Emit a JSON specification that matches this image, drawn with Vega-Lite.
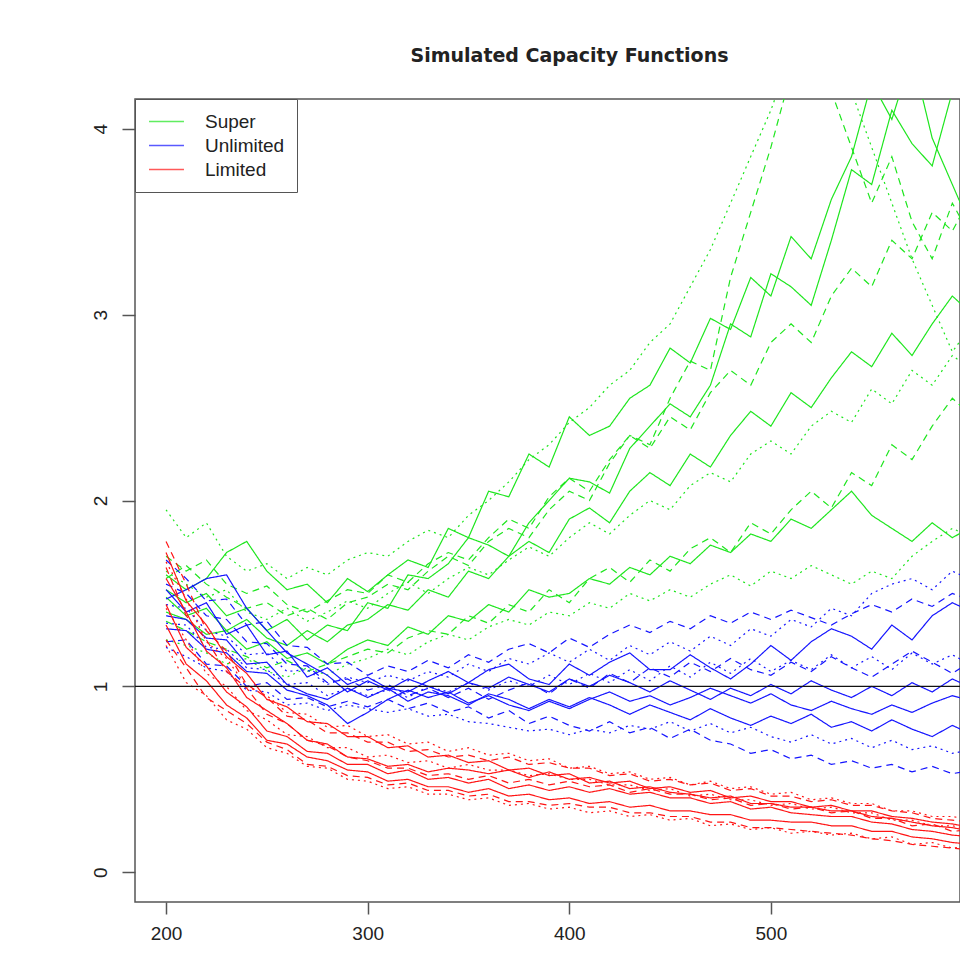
{
"$schema":"https://vega.github.io/schema/vega-lite/v6.json",
"width":825,"height":803,
"autosize":{"type":"none"},
"padding":{"left":135,"top":99,"right":0,"bottom":68},
"background":"white",
"title":{"text":"Simulated Capacity Functions","font":"DejaVu Sans","fontSize":19,"fontWeight":"bold","color":"#222","offset":33,"dx":22,"anchor":"middle"},
"datasets":{
"meta":[
{"k":"S1","g":"Super","t":"solid"},{"k":"S2","g":"Super","t":"solid"},{"k":"S3","g":"Super","t":"solid"},{"k":"S4","g":"Super","t":"solid"},{"k":"S5","g":"Super","t":"dashed"},{"k":"S6","g":"Super","t":"dashed"},{"k":"S7","g":"Super","t":"dashed"},{"k":"S8","g":"Super","t":"dotted"},{"k":"S9","g":"Super","t":"dotted"},{"k":"S10","g":"Super","t":"dotted"},
{"k":"U1","g":"Unlimited","t":"solid"},{"k":"U2","g":"Unlimited","t":"solid"},{"k":"U3","g":"Unlimited","t":"solid"},{"k":"U4","g":"Unlimited","t":"solid"},{"k":"U5","g":"Unlimited","t":"dashed"},{"k":"U6","g":"Unlimited","t":"dashed"},{"k":"U7","g":"Unlimited","t":"dashed"},{"k":"U8","g":"Unlimited","t":"dotted"},{"k":"U9","g":"Unlimited","t":"dotted"},{"k":"U10","g":"Unlimited","t":"dotted"},
{"k":"L1","g":"Limited","t":"solid"},{"k":"L2","g":"Limited","t":"solid"},{"k":"L3","g":"Limited","t":"solid"},{"k":"L4","g":"Limited","t":"solid"},{"k":"L5","g":"Limited","t":"dashed"},{"k":"L6","g":"Limited","t":"dashed"},{"k":"L7","g":"Limited","t":"dashed"},{"k":"L8","g":"Limited","t":"dotted"},{"k":"L9","g":"Limited","t":"dotted"},{"k":"L10","g":"Limited","t":"dotted"}
],
"curves":[
{"k":"S1","x":200,"y":1.6},{"k":"S1","x":210,"y":1.52},{"k":"S1","x":220,"y":1.58},{"k":"S1","x":230,"y":1.72},{"k":"S1","x":240,"y":1.78},{"k":"S1","x":250,"y":1.62},{"k":"S1","x":260,"y":1.52},{"k":"S1","x":270,"y":1.55},{"k":"S1","x":280,"y":1.45},{"k":"S1","x":290,"y":1.58},{"k":"S1","x":300,"y":1.51},{"k":"S1","x":310,"y":1.6},{"k":"S1","x":320,"y":1.68},{"k":"S1","x":330,"y":1.64},{"k":"S1","x":340,"y":1.85},{"k":"S1","x":350,"y":1.8},{"k":"S1","x":360,"y":2.05},{"k":"S1","x":370,"y":2.02},{"k":"S1","x":380,"y":2.25},{"k":"S1","x":390,"y":2.18},{"k":"S1","x":400,"y":2.45},{"k":"S1","x":410,"y":2.35},{"k":"S1","x":420,"y":2.4},{"k":"S1","x":430,"y":2.55},{"k":"S1","x":440,"y":2.62},{"k":"S1","x":450,"y":2.82},{"k":"S1","x":460,"y":2.74},{"k":"S1","x":470,"y":2.98},{"k":"S1","x":480,"y":2.92},{"k":"S1","x":490,"y":3.2},{"k":"S1","x":500,"y":3.1},{"k":"S1","x":510,"y":3.42},{"k":"S1","x":520,"y":3.3},{"k":"S1","x":530,"y":3.62},{"k":"S1","x":540,"y":3.85},{"k":"S1","x":550,"y":4.25},{"k":"S1","x":560,"y":4.05},{"k":"S1","x":570,"y":4.4},{"k":"S1","x":580,"y":3.95},{"k":"S1","x":590,"y":3.7},{"k":"S1","x":600,"y":3.45},
{"k":"S2","x":200,"y":1.52},{"k":"S2","x":210,"y":1.45},{"k":"S2","x":220,"y":1.5},{"k":"S2","x":230,"y":1.38},{"k":"S2","x":240,"y":1.42},{"k":"S2","x":250,"y":1.3},{"k":"S2","x":260,"y":1.36},{"k":"S2","x":270,"y":1.25},{"k":"S2","x":280,"y":1.33},{"k":"S2","x":290,"y":1.3},{"k":"S2","x":300,"y":1.45},{"k":"S2","x":310,"y":1.42},{"k":"S2","x":320,"y":1.6},{"k":"S2","x":330,"y":1.58},{"k":"S2","x":340,"y":1.66},{"k":"S2","x":350,"y":1.8},{"k":"S2","x":360,"y":1.76},{"k":"S2","x":370,"y":1.7},{"k":"S2","x":380,"y":1.88},{"k":"S2","x":390,"y":2.0},{"k":"S2","x":400,"y":2.12},{"k":"S2","x":410,"y":2.1},{"k":"S2","x":420,"y":2.04},{"k":"S2","x":430,"y":2.28},{"k":"S2","x":440,"y":2.4},{"k":"S2","x":450,"y":2.52},{"k":"S2","x":460,"y":2.45},{"k":"S2","x":470,"y":2.62},{"k":"S2","x":480,"y":2.95},{"k":"S2","x":490,"y":2.88},{"k":"S2","x":500,"y":3.22},{"k":"S2","x":510,"y":3.15},{"k":"S2","x":520,"y":3.05},{"k":"S2","x":530,"y":3.4},{"k":"S2","x":540,"y":3.78},{"k":"S2","x":550,"y":3.7},{"k":"S2","x":560,"y":4.1},{"k":"S2","x":570,"y":3.92},{"k":"S2","x":580,"y":3.8},{"k":"S2","x":590,"y":4.2},{"k":"S2","x":600,"y":4.35},
{"k":"S3","x":200,"y":1.48},{"k":"S3","x":210,"y":1.38},{"k":"S3","x":220,"y":1.42},{"k":"S3","x":230,"y":1.3},{"k":"S3","x":240,"y":1.36},{"k":"S3","x":250,"y":1.26},{"k":"S3","x":260,"y":1.22},{"k":"S3","x":270,"y":1.3},{"k":"S3","x":280,"y":1.24},{"k":"S3","x":290,"y":1.33},{"k":"S3","x":300,"y":1.36},{"k":"S3","x":310,"y":1.44},{"k":"S3","x":320,"y":1.41},{"k":"S3","x":330,"y":1.52},{"k":"S3","x":340,"y":1.48},{"k":"S3","x":350,"y":1.62},{"k":"S3","x":360,"y":1.58},{"k":"S3","x":370,"y":1.7},{"k":"S3","x":380,"y":1.78},{"k":"S3","x":390,"y":1.72},{"k":"S3","x":400,"y":1.9},{"k":"S3","x":410,"y":1.96},{"k":"S3","x":420,"y":1.88},{"k":"S3","x":430,"y":2.05},{"k":"S3","x":440,"y":2.15},{"k":"S3","x":450,"y":2.08},{"k":"S3","x":460,"y":2.25},{"k":"S3","x":470,"y":2.18},{"k":"S3","x":480,"y":2.35},{"k":"S3","x":490,"y":2.48},{"k":"S3","x":500,"y":2.4},{"k":"S3","x":510,"y":2.58},{"k":"S3","x":520,"y":2.5},{"k":"S3","x":530,"y":2.66},{"k":"S3","x":540,"y":2.8},{"k":"S3","x":550,"y":2.72},{"k":"S3","x":560,"y":2.9},{"k":"S3","x":570,"y":2.78},{"k":"S3","x":580,"y":2.95},{"k":"S3","x":590,"y":3.1},{"k":"S3","x":600,"y":3.0},
{"k":"S4","x":200,"y":1.4},{"k":"S4","x":210,"y":1.36},{"k":"S4","x":220,"y":1.28},{"k":"S4","x":230,"y":1.3},{"k":"S4","x":240,"y":1.2},{"k":"S4","x":250,"y":1.24},{"k":"S4","x":260,"y":1.15},{"k":"S4","x":270,"y":1.18},{"k":"S4","x":280,"y":1.12},{"k":"S4","x":290,"y":1.2},{"k":"S4","x":300,"y":1.25},{"k":"S4","x":310,"y":1.22},{"k":"S4","x":320,"y":1.32},{"k":"S4","x":330,"y":1.28},{"k":"S4","x":340,"y":1.38},{"k":"S4","x":350,"y":1.35},{"k":"S4","x":360,"y":1.44},{"k":"S4","x":370,"y":1.4},{"k":"S4","x":380,"y":1.52},{"k":"S4","x":390,"y":1.48},{"k":"S4","x":400,"y":1.5},{"k":"S4","x":410,"y":1.58},{"k":"S4","x":420,"y":1.55},{"k":"S4","x":430,"y":1.64},{"k":"S4","x":440,"y":1.6},{"k":"S4","x":450,"y":1.7},{"k":"S4","x":460,"y":1.66},{"k":"S4","x":470,"y":1.76},{"k":"S4","x":480,"y":1.72},{"k":"S4","x":490,"y":1.82},{"k":"S4","x":500,"y":1.78},{"k":"S4","x":510,"y":1.9},{"k":"S4","x":520,"y":1.85},{"k":"S4","x":530,"y":1.95},{"k":"S4","x":540,"y":2.05},{"k":"S4","x":550,"y":1.92},{"k":"S4","x":560,"y":1.85},{"k":"S4","x":570,"y":1.78},{"k":"S4","x":580,"y":1.88},{"k":"S4","x":590,"y":1.8},{"k":"S4","x":600,"y":1.86},
{"k":"S5","x":200,"y":1.58},{"k":"S5","x":210,"y":1.65},{"k":"S5","x":220,"y":1.55},{"k":"S5","x":230,"y":1.48},{"k":"S5","x":240,"y":1.42},{"k":"S5","x":250,"y":1.45},{"k":"S5","x":260,"y":1.38},{"k":"S5","x":270,"y":1.42},{"k":"S5","x":280,"y":1.36},{"k":"S5","x":290,"y":1.45},{"k":"S5","x":300,"y":1.48},{"k":"S5","x":310,"y":1.55},{"k":"S5","x":320,"y":1.52},{"k":"S5","x":330,"y":1.62},{"k":"S5","x":340,"y":1.7},{"k":"S5","x":350,"y":1.65},{"k":"S5","x":360,"y":1.78},{"k":"S5","x":370,"y":1.85},{"k":"S5","x":380,"y":1.8},{"k":"S5","x":390,"y":1.95},{"k":"S5","x":400,"y":2.05},{"k":"S5","x":410,"y":2.0},{"k":"S5","x":420,"y":2.2},{"k":"S5","x":430,"y":2.35},{"k":"S5","x":440,"y":2.3},{"k":"S5","x":450,"y":2.55},{"k":"S5","x":460,"y":2.75},{"k":"S5","x":470,"y":2.7},{"k":"S5","x":480,"y":3.2},{"k":"S5","x":490,"y":3.55},{"k":"S5","x":500,"y":3.9},{"k":"S5","x":510,"y":4.3},{"k":"S5","x":520,"y":4.5},{"k":"S5","x":530,"y":4.2},{"k":"S5","x":540,"y":3.9},{"k":"S5","x":550,"y":3.6},{"k":"S5","x":560,"y":3.85},{"k":"S5","x":570,"y":3.5},{"k":"S5","x":580,"y":3.3},{"k":"S5","x":590,"y":3.6},{"k":"S5","x":600,"y":3.4},
{"k":"S6","x":200,"y":1.35},{"k":"S6","x":210,"y":1.3},{"k":"S6","x":220,"y":1.24},{"k":"S6","x":230,"y":1.2},{"k":"S6","x":240,"y":1.16},{"k":"S6","x":250,"y":1.1},{"k":"S6","x":260,"y":1.14},{"k":"S6","x":270,"y":1.08},{"k":"S6","x":280,"y":1.12},{"k":"S6","x":290,"y":1.16},{"k":"S6","x":300,"y":1.2},{"k":"S6","x":310,"y":1.18},{"k":"S6","x":320,"y":1.26},{"k":"S6","x":330,"y":1.3},{"k":"S6","x":340,"y":1.28},{"k":"S6","x":350,"y":1.38},{"k":"S6","x":360,"y":1.34},{"k":"S6","x":370,"y":1.44},{"k":"S6","x":380,"y":1.4},{"k":"S6","x":390,"y":1.52},{"k":"S6","x":400,"y":1.45},{"k":"S6","x":410,"y":1.58},{"k":"S6","x":420,"y":1.64},{"k":"S6","x":430,"y":1.56},{"k":"S6","x":440,"y":1.68},{"k":"S6","x":450,"y":1.62},{"k":"S6","x":460,"y":1.74},{"k":"S6","x":470,"y":1.8},{"k":"S6","x":480,"y":1.72},{"k":"S6","x":490,"y":1.88},{"k":"S6","x":500,"y":1.82},{"k":"S6","x":510,"y":1.95},{"k":"S6","x":520,"y":2.05},{"k":"S6","x":530,"y":1.96},{"k":"S6","x":540,"y":2.15},{"k":"S6","x":550,"y":2.08},{"k":"S6","x":560,"y":2.3},{"k":"S6","x":570,"y":2.22},{"k":"S6","x":580,"y":2.4},{"k":"S6","x":590,"y":2.55},{"k":"S6","x":600,"y":2.45},
{"k":"S7","x":200,"y":1.7},{"k":"S7","x":210,"y":1.62},{"k":"S7","x":220,"y":1.68},{"k":"S7","x":230,"y":1.55},{"k":"S7","x":240,"y":1.5},{"k":"S7","x":250,"y":1.54},{"k":"S7","x":260,"y":1.44},{"k":"S7","x":270,"y":1.4},{"k":"S7","x":280,"y":1.46},{"k":"S7","x":290,"y":1.52},{"k":"S7","x":300,"y":1.5},{"k":"S7","x":310,"y":1.6},{"k":"S7","x":320,"y":1.56},{"k":"S7","x":330,"y":1.66},{"k":"S7","x":340,"y":1.72},{"k":"S7","x":350,"y":1.68},{"k":"S7","x":360,"y":1.8},{"k":"S7","x":370,"y":1.9},{"k":"S7","x":380,"y":1.85},{"k":"S7","x":390,"y":2.02},{"k":"S7","x":400,"y":2.12},{"k":"S7","x":410,"y":2.05},{"k":"S7","x":420,"y":2.22},{"k":"S7","x":430,"y":2.35},{"k":"S7","x":440,"y":2.28},{"k":"S7","x":450,"y":2.45},{"k":"S7","x":460,"y":2.38},{"k":"S7","x":470,"y":2.58},{"k":"S7","x":480,"y":2.7},{"k":"S7","x":490,"y":2.62},{"k":"S7","x":500,"y":2.85},{"k":"S7","x":510,"y":2.95},{"k":"S7","x":520,"y":2.85},{"k":"S7","x":530,"y":3.1},{"k":"S7","x":540,"y":3.25},{"k":"S7","x":550,"y":3.15},{"k":"S7","x":560,"y":3.4},{"k":"S7","x":570,"y":3.3},{"k":"S7","x":580,"y":3.55},{"k":"S7","x":590,"y":3.45},{"k":"S7","x":600,"y":3.65},
{"k":"S8","x":200,"y":1.25},{"k":"S8","x":210,"y":1.22},{"k":"S8","x":220,"y":1.18},{"k":"S8","x":230,"y":1.12},{"k":"S8","x":240,"y":1.15},{"k":"S8","x":250,"y":1.08},{"k":"S8","x":260,"y":1.05},{"k":"S8","x":270,"y":1.1},{"k":"S8","x":280,"y":1.06},{"k":"S8","x":290,"y":1.12},{"k":"S8","x":300,"y":1.15},{"k":"S8","x":310,"y":1.2},{"k":"S8","x":320,"y":1.17},{"k":"S8","x":330,"y":1.24},{"k":"S8","x":340,"y":1.28},{"k":"S8","x":350,"y":1.25},{"k":"S8","x":360,"y":1.32},{"k":"S8","x":370,"y":1.36},{"k":"S8","x":380,"y":1.33},{"k":"S8","x":390,"y":1.4},{"k":"S8","x":400,"y":1.38},{"k":"S8","x":410,"y":1.45},{"k":"S8","x":420,"y":1.42},{"k":"S8","x":430,"y":1.5},{"k":"S8","x":440,"y":1.46},{"k":"S8","x":450,"y":1.52},{"k":"S8","x":460,"y":1.48},{"k":"S8","x":470,"y":1.55},{"k":"S8","x":480,"y":1.6},{"k":"S8","x":490,"y":1.54},{"k":"S8","x":500,"y":1.62},{"k":"S8","x":510,"y":1.58},{"k":"S8","x":520,"y":1.65},{"k":"S8","x":530,"y":1.6},{"k":"S8","x":540,"y":1.55},{"k":"S8","x":550,"y":1.62},{"k":"S8","x":560,"y":1.58},{"k":"S8","x":570,"y":1.7},{"k":"S8","x":580,"y":1.78},{"k":"S8","x":590,"y":1.85},{"k":"S8","x":600,"y":1.8},
{"k":"S9","x":200,"y":1.95},{"k":"S9","x":210,"y":1.8},{"k":"S9","x":220,"y":1.88},{"k":"S9","x":230,"y":1.7},{"k":"S9","x":240,"y":1.62},{"k":"S9","x":250,"y":1.66},{"k":"S9","x":260,"y":1.58},{"k":"S9","x":270,"y":1.64},{"k":"S9","x":280,"y":1.6},{"k":"S9","x":290,"y":1.68},{"k":"S9","x":300,"y":1.72},{"k":"S9","x":310,"y":1.7},{"k":"S9","x":320,"y":1.78},{"k":"S9","x":330,"y":1.84},{"k":"S9","x":340,"y":1.8},{"k":"S9","x":350,"y":1.92},{"k":"S9","x":360,"y":2.0},{"k":"S9","x":370,"y":2.1},{"k":"S9","x":380,"y":2.22},{"k":"S9","x":390,"y":2.3},{"k":"S9","x":400,"y":2.42},{"k":"S9","x":410,"y":2.5},{"k":"S9","x":420,"y":2.62},{"k":"S9","x":430,"y":2.7},{"k":"S9","x":440,"y":2.85},{"k":"S9","x":450,"y":2.95},{"k":"S9","x":460,"y":3.15},{"k":"S9","x":470,"y":3.35},{"k":"S9","x":480,"y":3.6},{"k":"S9","x":490,"y":3.85},{"k":"S9","x":500,"y":4.1},{"k":"S9","x":510,"y":4.4},{"k":"S9","x":520,"y":4.3},{"k":"S9","x":530,"y":4.5},{"k":"S9","x":540,"y":4.2},{"k":"S9","x":550,"y":3.9},{"k":"S9","x":560,"y":3.6},{"k":"S9","x":570,"y":3.3},{"k":"S9","x":580,"y":3.05},{"k":"S9","x":590,"y":2.8},{"k":"S9","x":600,"y":2.95},
{"k":"S10","x":200,"y":1.62},{"k":"S10","x":210,"y":1.55},{"k":"S10","x":220,"y":1.48},{"k":"S10","x":230,"y":1.52},{"k":"S10","x":240,"y":1.4},{"k":"S10","x":250,"y":1.36},{"k":"S10","x":260,"y":1.42},{"k":"S10","x":270,"y":1.35},{"k":"S10","x":280,"y":1.4},{"k":"S10","x":290,"y":1.46},{"k":"S10","x":300,"y":1.42},{"k":"S10","x":310,"y":1.5},{"k":"S10","x":320,"y":1.56},{"k":"S10","x":330,"y":1.5},{"k":"S10","x":340,"y":1.58},{"k":"S10","x":350,"y":1.64},{"k":"S10","x":360,"y":1.6},{"k":"S10","x":370,"y":1.68},{"k":"S10","x":380,"y":1.75},{"k":"S10","x":390,"y":1.7},{"k":"S10","x":400,"y":1.8},{"k":"S10","x":410,"y":1.88},{"k":"S10","x":420,"y":1.82},{"k":"S10","x":430,"y":1.92},{"k":"S10","x":440,"y":2.0},{"k":"S10","x":450,"y":1.95},{"k":"S10","x":460,"y":2.08},{"k":"S10","x":470,"y":2.15},{"k":"S10","x":480,"y":2.1},{"k":"S10","x":490,"y":2.25},{"k":"S10","x":500,"y":2.32},{"k":"S10","x":510,"y":2.25},{"k":"S10","x":520,"y":2.4},{"k":"S10","x":530,"y":2.48},{"k":"S10","x":540,"y":2.42},{"k":"S10","x":550,"y":2.6},{"k":"S10","x":560,"y":2.52},{"k":"S10","x":570,"y":2.7},{"k":"S10","x":580,"y":2.62},{"k":"S10","x":590,"y":2.78},{"k":"S10","x":600,"y":2.7},
{"k":"U1","x":200,"y":1.52},{"k":"U1","x":210,"y":1.4},{"k":"U1","x":220,"y":1.45},{"k":"U1","x":230,"y":1.28},{"k":"U1","x":240,"y":1.33},{"k":"U1","x":250,"y":1.17},{"k":"U1","x":260,"y":1.19},{"k":"U1","x":270,"y":1.05},{"k":"U1","x":280,"y":1.1},{"k":"U1","x":290,"y":1.01},{"k":"U1","x":300,"y":1.05},{"k":"U1","x":310,"y":0.99},{"k":"U1","x":320,"y":0.97},{"k":"U1","x":330,"y":1.03},{"k":"U1","x":340,"y":1.08},{"k":"U1","x":350,"y":1.02},{"k":"U1","x":360,"y":1.09},{"k":"U1","x":370,"y":1.12},{"k":"U1","x":380,"y":1.04},{"k":"U1","x":390,"y":1.01},{"k":"U1","x":400,"y":1.12},{"k":"U1","x":410,"y":1.06},{"k":"U1","x":420,"y":1.13},{"k":"U1","x":430,"y":1.18},{"k":"U1","x":440,"y":1.09},{"k":"U1","x":450,"y":1.09},{"k":"U1","x":460,"y":1.17},{"k":"U1","x":470,"y":1.1},{"k":"U1","x":480,"y":1.04},{"k":"U1","x":490,"y":1.12},{"k":"U1","x":500,"y":1.22},{"k":"U1","x":510,"y":1.14},{"k":"U1","x":520,"y":1.24},{"k":"U1","x":530,"y":1.31},{"k":"U1","x":540,"y":1.27},{"k":"U1","x":550,"y":1.2},{"k":"U1","x":560,"y":1.33},{"k":"U1","x":570,"y":1.25},{"k":"U1","x":580,"y":1.38},{"k":"U1","x":590,"y":1.45},{"k":"U1","x":600,"y":1.4},
{"k":"U2","x":200,"y":1.38},{"k":"U2","x":210,"y":1.36},{"k":"U2","x":220,"y":1.26},{"k":"U2","x":230,"y":1.25},{"k":"U2","x":240,"y":1.12},{"k":"U2","x":250,"y":1.13},{"k":"U2","x":260,"y":1.01},{"k":"U2","x":270,"y":0.96},{"k":"U2","x":280,"y":0.93},{"k":"U2","x":290,"y":0.99},{"k":"U2","x":300,"y":0.94},{"k":"U2","x":310,"y":0.99},{"k":"U2","x":320,"y":0.92},{"k":"U2","x":330,"y":0.97},{"k":"U2","x":340,"y":0.95},{"k":"U2","x":350,"y":0.9},{"k":"U2","x":360,"y":0.96},{"k":"U2","x":370,"y":0.93},{"k":"U2","x":380,"y":0.88},{"k":"U2","x":390,"y":0.93},{"k":"U2","x":400,"y":0.89},{"k":"U2","x":410,"y":0.94},{"k":"U2","x":420,"y":0.9},{"k":"U2","x":430,"y":0.85},{"k":"U2","x":440,"y":0.9},{"k":"U2","x":450,"y":0.86},{"k":"U2","x":460,"y":0.82},{"k":"U2","x":470,"y":0.88},{"k":"U2","x":480,"y":0.83},{"k":"U2","x":490,"y":0.79},{"k":"U2","x":500,"y":0.84},{"k":"U2","x":510,"y":0.8},{"k":"U2","x":520,"y":0.85},{"k":"U2","x":530,"y":0.78},{"k":"U2","x":540,"y":0.81},{"k":"U2","x":550,"y":0.76},{"k":"U2","x":560,"y":0.82},{"k":"U2","x":570,"y":0.77},{"k":"U2","x":580,"y":0.73},{"k":"U2","x":590,"y":0.79},{"k":"U2","x":600,"y":0.74},
{"k":"U3","x":200,"y":1.47},{"k":"U3","x":210,"y":1.52},{"k":"U3","x":220,"y":1.58},{"k":"U3","x":230,"y":1.6},{"k":"U3","x":240,"y":1.42},{"k":"U3","x":250,"y":1.3},{"k":"U3","x":260,"y":1.18},{"k":"U3","x":270,"y":1.12},{"k":"U3","x":280,"y":1.06},{"k":"U3","x":290,"y":0.97},{"k":"U3","x":300,"y":1.03},{"k":"U3","x":310,"y":0.98},{"k":"U3","x":320,"y":1.04},{"k":"U3","x":330,"y":1.0},{"k":"U3","x":340,"y":0.96},{"k":"U3","x":350,"y":1.02},{"k":"U3","x":360,"y":0.99},{"k":"U3","x":370,"y":1.05},{"k":"U3","x":380,"y":1.01},{"k":"U3","x":390,"y":0.97},{"k":"U3","x":400,"y":1.04},{"k":"U3","x":410,"y":1.0},{"k":"U3","x":420,"y":1.06},{"k":"U3","x":430,"y":1.02},{"k":"U3","x":440,"y":0.97},{"k":"U3","x":450,"y":1.03},{"k":"U3","x":460,"y":0.98},{"k":"U3","x":470,"y":0.93},{"k":"U3","x":480,"y":0.99},{"k":"U3","x":490,"y":0.95},{"k":"U3","x":500,"y":1.01},{"k":"U3","x":510,"y":0.96},{"k":"U3","x":520,"y":1.03},{"k":"U3","x":530,"y":0.98},{"k":"U3","x":540,"y":0.94},{"k":"U3","x":550,"y":1.0},{"k":"U3","x":560,"y":0.95},{"k":"U3","x":570,"y":1.02},{"k":"U3","x":580,"y":0.97},{"k":"U3","x":590,"y":1.04},{"k":"U3","x":600,"y":0.99},
{"k":"U4","x":200,"y":1.31},{"k":"U4","x":210,"y":1.3},{"k":"U4","x":220,"y":1.2},{"k":"U4","x":230,"y":1.18},{"k":"U4","x":240,"y":1.08},{"k":"U4","x":250,"y":1.07},{"k":"U4","x":260,"y":0.98},{"k":"U4","x":270,"y":0.95},{"k":"U4","x":280,"y":0.9},{"k":"U4","x":290,"y":0.8},{"k":"U4","x":300,"y":0.86},{"k":"U4","x":310,"y":0.93},{"k":"U4","x":320,"y":0.98},{"k":"U4","x":330,"y":0.94},{"k":"U4","x":340,"y":0.97},{"k":"U4","x":350,"y":0.91},{"k":"U4","x":360,"y":0.95},{"k":"U4","x":370,"y":0.9},{"k":"U4","x":380,"y":0.87},{"k":"U4","x":390,"y":0.92},{"k":"U4","x":400,"y":0.88},{"k":"U4","x":410,"y":0.93},{"k":"U4","x":420,"y":0.97},{"k":"U4","x":430,"y":0.92},{"k":"U4","x":440,"y":0.95},{"k":"U4","x":450,"y":0.9},{"k":"U4","x":460,"y":0.94},{"k":"U4","x":470,"y":0.99},{"k":"U4","x":480,"y":0.95},{"k":"U4","x":490,"y":0.91},{"k":"U4","x":500,"y":0.96},{"k":"U4","x":510,"y":0.9},{"k":"U4","x":520,"y":0.87},{"k":"U4","x":530,"y":0.92},{"k":"U4","x":540,"y":0.88},{"k":"U4","x":550,"y":0.85},{"k":"U4","x":560,"y":0.9},{"k":"U4","x":570,"y":0.86},{"k":"U4","x":580,"y":0.91},{"k":"U4","x":590,"y":0.95},{"k":"U4","x":600,"y":0.92},
{"k":"U5","x":200,"y":1.68},{"k":"U5","x":210,"y":1.58},{"k":"U5","x":220,"y":1.46},{"k":"U5","x":230,"y":1.47},{"k":"U5","x":240,"y":1.33},{"k":"U5","x":250,"y":1.35},{"k":"U5","x":260,"y":1.22},{"k":"U5","x":270,"y":1.21},{"k":"U5","x":280,"y":1.12},{"k":"U5","x":290,"y":1.13},{"k":"U5","x":300,"y":1.06},{"k":"U5","x":310,"y":1.11},{"k":"U5","x":320,"y":1.08},{"k":"U5","x":330,"y":1.14},{"k":"U5","x":340,"y":1.1},{"k":"U5","x":350,"y":1.17},{"k":"U5","x":360,"y":1.13},{"k":"U5","x":370,"y":1.2},{"k":"U5","x":380,"y":1.23},{"k":"U5","x":390,"y":1.18},{"k":"U5","x":400,"y":1.26},{"k":"U5","x":410,"y":1.21},{"k":"U5","x":420,"y":1.28},{"k":"U5","x":430,"y":1.33},{"k":"U5","x":440,"y":1.29},{"k":"U5","x":450,"y":1.35},{"k":"U5","x":460,"y":1.31},{"k":"U5","x":470,"y":1.38},{"k":"U5","x":480,"y":1.34},{"k":"U5","x":490,"y":1.4},{"k":"U5","x":500,"y":1.36},{"k":"U5","x":510,"y":1.41},{"k":"U5","x":520,"y":1.37},{"k":"U5","x":530,"y":1.33},{"k":"U5","x":540,"y":1.39},{"k":"U5","x":550,"y":1.44},{"k":"U5","x":560,"y":1.4},{"k":"U5","x":570,"y":1.47},{"k":"U5","x":580,"y":1.43},{"k":"U5","x":590,"y":1.5},{"k":"U5","x":600,"y":1.46},
{"k":"U6","x":200,"y":1.24},{"k":"U6","x":210,"y":1.25},{"k":"U6","x":220,"y":1.12},{"k":"U6","x":230,"y":1.11},{"k":"U6","x":240,"y":1.0},{"k":"U6","x":250,"y":1.02},{"k":"U6","x":260,"y":0.93},{"k":"U6","x":270,"y":0.94},{"k":"U6","x":280,"y":0.89},{"k":"U6","x":290,"y":0.92},{"k":"U6","x":300,"y":0.89},{"k":"U6","x":310,"y":0.93},{"k":"U6","x":320,"y":0.88},{"k":"U6","x":330,"y":0.91},{"k":"U6","x":340,"y":0.86},{"k":"U6","x":350,"y":0.89},{"k":"U6","x":360,"y":0.83},{"k":"U6","x":370,"y":0.87},{"k":"U6","x":380,"y":0.8},{"k":"U6","x":390,"y":0.84},{"k":"U6","x":400,"y":0.79},{"k":"U6","x":410,"y":0.76},{"k":"U6","x":420,"y":0.81},{"k":"U6","x":430,"y":0.75},{"k":"U6","x":440,"y":0.78},{"k":"U6","x":450,"y":0.72},{"k":"U6","x":460,"y":0.77},{"k":"U6","x":470,"y":0.71},{"k":"U6","x":480,"y":0.69},{"k":"U6","x":490,"y":0.64},{"k":"U6","x":500,"y":0.66},{"k":"U6","x":510,"y":0.61},{"k":"U6","x":520,"y":0.63},{"k":"U6","x":530,"y":0.58},{"k":"U6","x":540,"y":0.6},{"k":"U6","x":550,"y":0.56},{"k":"U6","x":560,"y":0.58},{"k":"U6","x":570,"y":0.54},{"k":"U6","x":580,"y":0.57},{"k":"U6","x":590,"y":0.53},{"k":"U6","x":600,"y":0.55},
{"k":"U7","x":200,"y":1.55},{"k":"U7","x":210,"y":1.5},{"k":"U7","x":220,"y":1.38},{"k":"U7","x":230,"y":1.36},{"k":"U7","x":240,"y":1.24},{"k":"U7","x":250,"y":1.23},{"k":"U7","x":260,"y":1.12},{"k":"U7","x":270,"y":1.11},{"k":"U7","x":280,"y":1.02},{"k":"U7","x":290,"y":1.04},{"k":"U7","x":300,"y":0.98},{"k":"U7","x":310,"y":1.01},{"k":"U7","x":320,"y":0.95},{"k":"U7","x":330,"y":0.99},{"k":"U7","x":340,"y":0.94},{"k":"U7","x":350,"y":0.99},{"k":"U7","x":360,"y":0.93},{"k":"U7","x":370,"y":0.98},{"k":"U7","x":380,"y":1.02},{"k":"U7","x":390,"y":0.96},{"k":"U7","x":400,"y":1.04},{"k":"U7","x":410,"y":0.99},{"k":"U7","x":420,"y":1.07},{"k":"U7","x":430,"y":1.02},{"k":"U7","x":440,"y":1.1},{"k":"U7","x":450,"y":1.05},{"k":"U7","x":460,"y":1.13},{"k":"U7","x":470,"y":1.08},{"k":"U7","x":480,"y":1.15},{"k":"U7","x":490,"y":1.09},{"k":"U7","x":500,"y":1.06},{"k":"U7","x":510,"y":1.13},{"k":"U7","x":520,"y":1.08},{"k":"U7","x":530,"y":1.16},{"k":"U7","x":540,"y":1.1},{"k":"U7","x":550,"y":1.05},{"k":"U7","x":560,"y":1.12},{"k":"U7","x":570,"y":1.19},{"k":"U7","x":580,"y":1.13},{"k":"U7","x":590,"y":1.07},{"k":"U7","x":600,"y":1.14},
{"k":"U8","x":200,"y":1.21},{"k":"U8","x":210,"y":1.16},{"k":"U8","x":220,"y":1.1},{"k":"U8","x":230,"y":1.08},{"k":"U8","x":240,"y":0.98},{"k":"U8","x":250,"y":0.97},{"k":"U8","x":260,"y":0.9},{"k":"U8","x":270,"y":0.91},{"k":"U8","x":280,"y":0.87},{"k":"U8","x":290,"y":0.9},{"k":"U8","x":300,"y":0.88},{"k":"U8","x":310,"y":0.86},{"k":"U8","x":320,"y":0.88},{"k":"U8","x":330,"y":0.84},{"k":"U8","x":340,"y":0.85},{"k":"U8","x":350,"y":0.81},{"k":"U8","x":360,"y":0.8},{"k":"U8","x":370,"y":0.78},{"k":"U8","x":380,"y":0.76},{"k":"U8","x":390,"y":0.77},{"k":"U8","x":400,"y":0.74},{"k":"U8","x":410,"y":0.77},{"k":"U8","x":420,"y":0.75},{"k":"U8","x":430,"y":0.79},{"k":"U8","x":440,"y":0.77},{"k":"U8","x":450,"y":0.81},{"k":"U8","x":460,"y":0.76},{"k":"U8","x":470,"y":0.8},{"k":"U8","x":480,"y":0.75},{"k":"U8","x":490,"y":0.78},{"k":"U8","x":500,"y":0.73},{"k":"U8","x":510,"y":0.7},{"k":"U8","x":520,"y":0.74},{"k":"U8","x":530,"y":0.69},{"k":"U8","x":540,"y":0.72},{"k":"U8","x":550,"y":0.67},{"k":"U8","x":560,"y":0.71},{"k":"U8","x":570,"y":0.66},{"k":"U8","x":580,"y":0.68},{"k":"U8","x":590,"y":0.64},{"k":"U8","x":600,"y":0.66},
{"k":"U9","x":200,"y":1.44},{"k":"U9","x":210,"y":1.42},{"k":"U9","x":220,"y":1.3},{"k":"U9","x":230,"y":1.27},{"k":"U9","x":240,"y":1.17},{"k":"U9","x":250,"y":1.18},{"k":"U9","x":260,"y":1.08},{"k":"U9","x":270,"y":1.09},{"k":"U9","x":280,"y":1.01},{"k":"U9","x":290,"y":1.05},{"k":"U9","x":300,"y":1.02},{"k":"U9","x":310,"y":1.06},{"k":"U9","x":320,"y":1.03},{"k":"U9","x":330,"y":1.08},{"k":"U9","x":340,"y":1.05},{"k":"U9","x":350,"y":1.12},{"k":"U9","x":360,"y":1.08},{"k":"U9","x":370,"y":1.15},{"k":"U9","x":380,"y":1.12},{"k":"U9","x":390,"y":1.18},{"k":"U9","x":400,"y":1.13},{"k":"U9","x":410,"y":1.2},{"k":"U9","x":420,"y":1.14},{"k":"U9","x":430,"y":1.22},{"k":"U9","x":440,"y":1.17},{"k":"U9","x":450,"y":1.24},{"k":"U9","x":460,"y":1.19},{"k":"U9","x":470,"y":1.27},{"k":"U9","x":480,"y":1.22},{"k":"U9","x":490,"y":1.31},{"k":"U9","x":500,"y":1.27},{"k":"U9","x":510,"y":1.36},{"k":"U9","x":520,"y":1.32},{"k":"U9","x":530,"y":1.42},{"k":"U9","x":540,"y":1.38},{"k":"U9","x":550,"y":1.5},{"k":"U9","x":560,"y":1.55},{"k":"U9","x":570,"y":1.58},{"k":"U9","x":580,"y":1.52},{"k":"U9","x":590,"y":1.62},{"k":"U9","x":600,"y":1.57},
{"k":"U10","x":200,"y":1.34},{"k":"U10","x":210,"y":1.33},{"k":"U10","x":220,"y":1.21},{"k":"U10","x":230,"y":1.2},{"k":"U10","x":240,"y":1.1},{"k":"U10","x":250,"y":1.09},{"k":"U10","x":260,"y":1.01},{"k":"U10","x":270,"y":1.02},{"k":"U10","x":280,"y":0.95},{"k":"U10","x":290,"y":0.99},{"k":"U10","x":300,"y":0.95},{"k":"U10","x":310,"y":0.98},{"k":"U10","x":320,"y":0.94},{"k":"U10","x":330,"y":1.0},{"k":"U10","x":340,"y":0.97},{"k":"U10","x":350,"y":1.02},{"k":"U10","x":360,"y":0.98},{"k":"U10","x":370,"y":1.03},{"k":"U10","x":380,"y":1.0},{"k":"U10","x":390,"y":1.06},{"k":"U10","x":400,"y":1.01},{"k":"U10","x":410,"y":1.07},{"k":"U10","x":420,"y":1.02},{"k":"U10","x":430,"y":1.09},{"k":"U10","x":440,"y":1.03},{"k":"U10","x":450,"y":1.11},{"k":"U10","x":460,"y":1.05},{"k":"U10","x":470,"y":1.13},{"k":"U10","x":480,"y":1.07},{"k":"U10","x":490,"y":1.15},{"k":"U10","x":500,"y":1.08},{"k":"U10","x":510,"y":1.14},{"k":"U10","x":520,"y":1.09},{"k":"U10","x":530,"y":1.17},{"k":"U10","x":540,"y":1.1},{"k":"U10","x":550,"y":1.16},{"k":"U10","x":560,"y":1.09},{"k":"U10","x":570,"y":1.18},{"k":"U10","x":580,"y":1.12},{"k":"U10","x":590,"y":1.17},{"k":"U10","x":600,"y":1.11},
{"k":"L1","x":200,"y":1.72},{"k":"L1","x":210,"y":1.46},{"k":"L1","x":220,"y":1.33},{"k":"L1","x":230,"y":1.16},{"k":"L1","x":240,"y":1.07},{"k":"L1","x":250,"y":0.93},{"k":"L1","x":260,"y":0.89},{"k":"L1","x":270,"y":0.81},{"k":"L1","x":280,"y":0.8},{"k":"L1","x":290,"y":0.73},{"k":"L1","x":300,"y":0.73},{"k":"L1","x":310,"y":0.67},{"k":"L1","x":320,"y":0.68},{"k":"L1","x":330,"y":0.62},{"k":"L1","x":340,"y":0.63},{"k":"L1","x":350,"y":0.59},{"k":"L1","x":360,"y":0.6},{"k":"L1","x":370,"y":0.55},{"k":"L1","x":380,"y":0.56},{"k":"L1","x":390,"y":0.52},{"k":"L1","x":400,"y":0.53},{"k":"L1","x":410,"y":0.48},{"k":"L1","x":420,"y":0.49},{"k":"L1","x":430,"y":0.45},{"k":"L1","x":440,"y":0.46},{"k":"L1","x":450,"y":0.43},{"k":"L1","x":460,"y":0.42},{"k":"L1","x":470,"y":0.4},{"k":"L1","x":480,"y":0.41},{"k":"L1","x":490,"y":0.37},{"k":"L1","x":500,"y":0.37},{"k":"L1","x":510,"y":0.35},{"k":"L1","x":520,"y":0.35},{"k":"L1","x":530,"y":0.33},{"k":"L1","x":540,"y":0.33},{"k":"L1","x":550,"y":0.3},{"k":"L1","x":560,"y":0.29},{"k":"L1","x":570,"y":0.27},{"k":"L1","x":580,"y":0.25},{"k":"L1","x":590,"y":0.24},{"k":"L1","x":600,"y":0.22},
{"k":"L2","x":200,"y":1.58},{"k":"L2","x":210,"y":1.4},{"k":"L2","x":220,"y":1.19},{"k":"L2","x":230,"y":1.1},{"k":"L2","x":240,"y":0.94},{"k":"L2","x":250,"y":0.87},{"k":"L2","x":260,"y":0.8},{"k":"L2","x":270,"y":0.71},{"k":"L2","x":280,"y":0.69},{"k":"L2","x":290,"y":0.62},{"k":"L2","x":300,"y":0.61},{"k":"L2","x":310,"y":0.57},{"k":"L2","x":320,"y":0.58},{"k":"L2","x":330,"y":0.54},{"k":"L2","x":340,"y":0.56},{"k":"L2","x":350,"y":0.55},{"k":"L2","x":360,"y":0.53},{"k":"L2","x":370,"y":0.55},{"k":"L2","x":380,"y":0.51},{"k":"L2","x":390,"y":0.54},{"k":"L2","x":400,"y":0.5},{"k":"L2","x":410,"y":0.51},{"k":"L2","x":420,"y":0.48},{"k":"L2","x":430,"y":0.49},{"k":"L2","x":440,"y":0.45},{"k":"L2","x":450,"y":0.46},{"k":"L2","x":460,"y":0.43},{"k":"L2","x":470,"y":0.44},{"k":"L2","x":480,"y":0.4},{"k":"L2","x":490,"y":0.41},{"k":"L2","x":500,"y":0.38},{"k":"L2","x":510,"y":0.38},{"k":"L2","x":520,"y":0.35},{"k":"L2","x":530,"y":0.36},{"k":"L2","x":540,"y":0.33},{"k":"L2","x":550,"y":0.33},{"k":"L2","x":560,"y":0.3},{"k":"L2","x":570,"y":0.29},{"k":"L2","x":580,"y":0.27},{"k":"L2","x":590,"y":0.26},{"k":"L2","x":600,"y":0.24},
{"k":"L3","x":200,"y":1.44},{"k":"L3","x":210,"y":1.21},{"k":"L3","x":220,"y":1.11},{"k":"L3","x":230,"y":0.97},{"k":"L3","x":240,"y":0.89},{"k":"L3","x":250,"y":0.76},{"k":"L3","x":260,"y":0.73},{"k":"L3","x":270,"y":0.65},{"k":"L3","x":280,"y":0.64},{"k":"L3","x":290,"y":0.58},{"k":"L3","x":300,"y":0.58},{"k":"L3","x":310,"y":0.53},{"k":"L3","x":320,"y":0.55},{"k":"L3","x":330,"y":0.5},{"k":"L3","x":340,"y":0.51},{"k":"L3","x":350,"y":0.48},{"k":"L3","x":360,"y":0.5},{"k":"L3","x":370,"y":0.45},{"k":"L3","x":380,"y":0.47},{"k":"L3","x":390,"y":0.44},{"k":"L3","x":400,"y":0.46},{"k":"L3","x":410,"y":0.43},{"k":"L3","x":420,"y":0.45},{"k":"L3","x":430,"y":0.42},{"k":"L3","x":440,"y":0.43},{"k":"L3","x":450,"y":0.4},{"k":"L3","x":460,"y":0.4},{"k":"L3","x":470,"y":0.37},{"k":"L3","x":480,"y":0.38},{"k":"L3","x":490,"y":0.34},{"k":"L3","x":500,"y":0.35},{"k":"L3","x":510,"y":0.32},{"k":"L3","x":520,"y":0.31},{"k":"L3","x":530,"y":0.3},{"k":"L3","x":540,"y":0.3},{"k":"L3","x":550,"y":0.27},{"k":"L3","x":560,"y":0.26},{"k":"L3","x":570,"y":0.23},{"k":"L3","x":580,"y":0.22},{"k":"L3","x":590,"y":0.2},{"k":"L3","x":600,"y":0.19},
{"k":"L4","x":200,"y":1.33},{"k":"L4","x":210,"y":1.12},{"k":"L4","x":220,"y":1.03},{"k":"L4","x":230,"y":0.9},{"k":"L4","x":240,"y":0.83},{"k":"L4","x":250,"y":0.71},{"k":"L4","x":260,"y":0.69},{"k":"L4","x":270,"y":0.62},{"k":"L4","x":280,"y":0.6},{"k":"L4","x":290,"y":0.55},{"k":"L4","x":300,"y":0.54},{"k":"L4","x":310,"y":0.49},{"k":"L4","x":320,"y":0.5},{"k":"L4","x":330,"y":0.46},{"k":"L4","x":340,"y":0.46},{"k":"L4","x":350,"y":0.43},{"k":"L4","x":360,"y":0.45},{"k":"L4","x":370,"y":0.41},{"k":"L4","x":380,"y":0.42},{"k":"L4","x":390,"y":0.39},{"k":"L4","x":400,"y":0.4},{"k":"L4","x":410,"y":0.37},{"k":"L4","x":420,"y":0.38},{"k":"L4","x":430,"y":0.35},{"k":"L4","x":440,"y":0.36},{"k":"L4","x":450,"y":0.33},{"k":"L4","x":460,"y":0.33},{"k":"L4","x":470,"y":0.31},{"k":"L4","x":480,"y":0.31},{"k":"L4","x":490,"y":0.28},{"k":"L4","x":500,"y":0.28},{"k":"L4","x":510,"y":0.27},{"k":"L4","x":520,"y":0.27},{"k":"L4","x":530,"y":0.25},{"k":"L4","x":540,"y":0.25},{"k":"L4","x":550,"y":0.22},{"k":"L4","x":560,"y":0.22},{"k":"L4","x":570,"y":0.19},{"k":"L4","x":580,"y":0.18},{"k":"L4","x":590,"y":0.16},{"k":"L4","x":600,"y":0.15},
{"k":"L5","x":200,"y":1.78},{"k":"L5","x":210,"y":1.55},{"k":"L5","x":220,"y":1.3},{"k":"L5","x":230,"y":1.19},{"k":"L5","x":240,"y":1.01},{"k":"L5","x":250,"y":0.94},{"k":"L5","x":260,"y":0.84},{"k":"L5","x":270,"y":0.82},{"k":"L5","x":280,"y":0.75},{"k":"L5","x":290,"y":0.75},{"k":"L5","x":300,"y":0.7},{"k":"L5","x":310,"y":0.7},{"k":"L5","x":320,"y":0.65},{"k":"L5","x":330,"y":0.66},{"k":"L5","x":340,"y":0.62},{"k":"L5","x":350,"y":0.63},{"k":"L5","x":360,"y":0.6},{"k":"L5","x":370,"y":0.62},{"k":"L5","x":380,"y":0.58},{"k":"L5","x":390,"y":0.59},{"k":"L5","x":400,"y":0.56},{"k":"L5","x":410,"y":0.56},{"k":"L5","x":420,"y":0.52},{"k":"L5","x":430,"y":0.53},{"k":"L5","x":440,"y":0.49},{"k":"L5","x":450,"y":0.5},{"k":"L5","x":460,"y":0.47},{"k":"L5","x":470,"y":0.48},{"k":"L5","x":480,"y":0.44},{"k":"L5","x":490,"y":0.45},{"k":"L5","x":500,"y":0.41},{"k":"L5","x":510,"y":0.41},{"k":"L5","x":520,"y":0.38},{"k":"L5","x":530,"y":0.39},{"k":"L5","x":540,"y":0.36},{"k":"L5","x":550,"y":0.36},{"k":"L5","x":560,"y":0.33},{"k":"L5","x":570,"y":0.32},{"k":"L5","x":580,"y":0.29},{"k":"L5","x":590,"y":0.28},{"k":"L5","x":600,"y":0.27},
{"k":"L6","x":200,"y":1.25},{"k":"L6","x":210,"y":1.1},{"k":"L6","x":220,"y":0.94},{"k":"L6","x":230,"y":0.87},{"k":"L6","x":240,"y":0.8},{"k":"L6","x":250,"y":0.7},{"k":"L6","x":260,"y":0.66},{"k":"L6","x":270,"y":0.58},{"k":"L6","x":280,"y":0.57},{"k":"L6","x":290,"y":0.52},{"k":"L6","x":300,"y":0.51},{"k":"L6","x":310,"y":0.47},{"k":"L6","x":320,"y":0.48},{"k":"L6","x":330,"y":0.44},{"k":"L6","x":340,"y":0.44},{"k":"L6","x":350,"y":0.41},{"k":"L6","x":360,"y":0.42},{"k":"L6","x":370,"y":0.38},{"k":"L6","x":380,"y":0.38},{"k":"L6","x":390,"y":0.36},{"k":"L6","x":400,"y":0.37},{"k":"L6","x":410,"y":0.35},{"k":"L6","x":420,"y":0.35},{"k":"L6","x":430,"y":0.32},{"k":"L6","x":440,"y":0.32},{"k":"L6","x":450,"y":0.3},{"k":"L6","x":460,"y":0.3},{"k":"L6","x":470,"y":0.27},{"k":"L6","x":480,"y":0.27},{"k":"L6","x":490,"y":0.24},{"k":"L6","x":500,"y":0.24},{"k":"L6","x":510,"y":0.23},{"k":"L6","x":520,"y":0.22},{"k":"L6","x":530,"y":0.21},{"k":"L6","x":540,"y":0.2},{"k":"L6","x":550,"y":0.18},{"k":"L6","x":560,"y":0.17},{"k":"L6","x":570,"y":0.15},{"k":"L6","x":580,"y":0.14},{"k":"L6","x":590,"y":0.13},{"k":"L6","x":600,"y":0.12},
{"k":"L7","x":200,"y":1.64},{"k":"L7","x":210,"y":1.38},{"k":"L7","x":220,"y":1.25},{"k":"L7","x":230,"y":1.08},{"k":"L7","x":240,"y":0.99},{"k":"L7","x":250,"y":0.85},{"k":"L7","x":260,"y":0.8},{"k":"L7","x":270,"y":0.71},{"k":"L7","x":280,"y":0.68},{"k":"L7","x":290,"y":0.62},{"k":"L7","x":300,"y":0.6},{"k":"L7","x":310,"y":0.56},{"k":"L7","x":320,"y":0.56},{"k":"L7","x":330,"y":0.52},{"k":"L7","x":340,"y":0.53},{"k":"L7","x":350,"y":0.5},{"k":"L7","x":360,"y":0.52},{"k":"L7","x":370,"y":0.48},{"k":"L7","x":380,"y":0.5},{"k":"L7","x":390,"y":0.47},{"k":"L7","x":400,"y":0.49},{"k":"L7","x":410,"y":0.46},{"k":"L7","x":420,"y":0.47},{"k":"L7","x":430,"y":0.43},{"k":"L7","x":440,"y":0.45},{"k":"L7","x":450,"y":0.42},{"k":"L7","x":460,"y":0.42},{"k":"L7","x":470,"y":0.39},{"k":"L7","x":480,"y":0.4},{"k":"L7","x":490,"y":0.36},{"k":"L7","x":500,"y":0.37},{"k":"L7","x":510,"y":0.34},{"k":"L7","x":520,"y":0.35},{"k":"L7","x":530,"y":0.32},{"k":"L7","x":540,"y":0.33},{"k":"L7","x":550,"y":0.29},{"k":"L7","x":560,"y":0.29},{"k":"L7","x":570,"y":0.25},{"k":"L7","x":580,"y":0.26},{"k":"L7","x":590,"y":0.22},{"k":"L7","x":600,"y":0.23},
{"k":"L8","x":200,"y":1.42},{"k":"L8","x":210,"y":1.25},{"k":"L8","x":220,"y":1.07},{"k":"L8","x":230,"y":1.0},{"k":"L8","x":240,"y":0.87},{"k":"L8","x":250,"y":0.82},{"k":"L8","x":260,"y":0.74},{"k":"L8","x":270,"y":0.73},{"k":"L8","x":280,"y":0.67},{"k":"L8","x":290,"y":0.67},{"k":"L8","x":300,"y":0.62},{"k":"L8","x":310,"y":0.63},{"k":"L8","x":320,"y":0.59},{"k":"L8","x":330,"y":0.6},{"k":"L8","x":340,"y":0.56},{"k":"L8","x":350,"y":0.58},{"k":"L8","x":360,"y":0.55},{"k":"L8","x":370,"y":0.55},{"k":"L8","x":380,"y":0.52},{"k":"L8","x":390,"y":0.53},{"k":"L8","x":400,"y":0.5},{"k":"L8","x":410,"y":0.5},{"k":"L8","x":420,"y":0.47},{"k":"L8","x":430,"y":0.47},{"k":"L8","x":440,"y":0.44},{"k":"L8","x":450,"y":0.45},{"k":"L8","x":460,"y":0.41},{"k":"L8","x":470,"y":0.42},{"k":"L8","x":480,"y":0.39},{"k":"L8","x":490,"y":0.39},{"k":"L8","x":500,"y":0.36},{"k":"L8","x":510,"y":0.37},{"k":"L8","x":520,"y":0.34},{"k":"L8","x":530,"y":0.35},{"k":"L8","x":540,"y":0.32},{"k":"L8","x":550,"y":0.32},{"k":"L8","x":560,"y":0.28},{"k":"L8","x":570,"y":0.28},{"k":"L8","x":580,"y":0.25},{"k":"L8","x":590,"y":0.25},{"k":"L8","x":600,"y":0.23},
{"k":"L9","x":200,"y":1.22},{"k":"L9","x":210,"y":1.02},{"k":"L9","x":220,"y":0.95},{"k":"L9","x":230,"y":0.82},{"k":"L9","x":240,"y":0.77},{"k":"L9","x":250,"y":0.67},{"k":"L9","x":260,"y":0.64},{"k":"L9","x":270,"y":0.57},{"k":"L9","x":280,"y":0.56},{"k":"L9","x":290,"y":0.5},{"k":"L9","x":300,"y":0.49},{"k":"L9","x":310,"y":0.45},{"k":"L9","x":320,"y":0.46},{"k":"L9","x":330,"y":0.42},{"k":"L9","x":340,"y":0.42},{"k":"L9","x":350,"y":0.39},{"k":"L9","x":360,"y":0.4},{"k":"L9","x":370,"y":0.36},{"k":"L9","x":380,"y":0.37},{"k":"L9","x":390,"y":0.34},{"k":"L9","x":400,"y":0.35},{"k":"L9","x":410,"y":0.32},{"k":"L9","x":420,"y":0.33},{"k":"L9","x":430,"y":0.3},{"k":"L9","x":440,"y":0.31},{"k":"L9","x":450,"y":0.28},{"k":"L9","x":460,"y":0.29},{"k":"L9","x":470,"y":0.25},{"k":"L9","x":480,"y":0.26},{"k":"L9","x":490,"y":0.23},{"k":"L9","x":500,"y":0.24},{"k":"L9","x":510,"y":0.21},{"k":"L9","x":520,"y":0.22},{"k":"L9","x":530,"y":0.2},{"k":"L9","x":540,"y":0.21},{"k":"L9","x":550,"y":0.18},{"k":"L9","x":560,"y":0.19},{"k":"L9","x":570,"y":0.15},{"k":"L9","x":580,"y":0.16},{"k":"L9","x":590,"y":0.13},{"k":"L9","x":600,"y":0.14},
{"k":"L10","x":200,"y":1.67},{"k":"L10","x":210,"y":1.47},{"k":"L10","x":220,"y":1.24},{"k":"L10","x":230,"y":1.15},{"k":"L10","x":240,"y":1.0},{"k":"L10","x":250,"y":0.95},{"k":"L10","x":260,"y":0.86},{"k":"L10","x":270,"y":0.85},{"k":"L10","x":280,"y":0.78},{"k":"L10","x":290,"y":0.79},{"k":"L10","x":300,"y":0.73},{"k":"L10","x":310,"y":0.74},{"k":"L10","x":320,"y":0.69},{"k":"L10","x":330,"y":0.7},{"k":"L10","x":340,"y":0.65},{"k":"L10","x":350,"y":0.67},{"k":"L10","x":360,"y":0.63},{"k":"L10","x":370,"y":0.64},{"k":"L10","x":380,"y":0.6},{"k":"L10","x":390,"y":0.61},{"k":"L10","x":400,"y":0.56},{"k":"L10","x":410,"y":0.57},{"k":"L10","x":420,"y":0.53},{"k":"L10","x":430,"y":0.54},{"k":"L10","x":440,"y":0.5},{"k":"L10","x":450,"y":0.51},{"k":"L10","x":460,"y":0.47},{"k":"L10","x":470,"y":0.49},{"k":"L10","x":480,"y":0.45},{"k":"L10","x":490,"y":0.46},{"k":"L10","x":500,"y":0.42},{"k":"L10","x":510,"y":0.43},{"k":"L10","x":520,"y":0.39},{"k":"L10","x":530,"y":0.4},{"k":"L10","x":540,"y":0.37},{"k":"L10","x":550,"y":0.37},{"k":"L10","x":560,"y":0.33},{"k":"L10","x":570,"y":0.33},{"k":"L10","x":580,"y":0.3},{"k":"L10","x":590,"y":0.3},{"k":"L10","x":600,"y":0.28}
]
},
"layer":[
{"data":{"name":"curves"},
"transform":[{"lookup":"k","from":{"data":{"name":"meta"},"key":"k","fields":["g","t"]}}],
"mark":{"type":"line","strokeWidth":1.2,"clip":true},
"encoding":{
"x":{"field":"x","type":"quantitative","scale":{"domain":[184.6,593.8],"nice":false,"zero":false},"axis":{"values":[200,300,400,500],"tickSize":12,"labelPadding":10,"title":null}},
"y":{"field":"y","type":"quantitative","scale":{"domain":[-0.16,4.16],"nice":false,"zero":false},"axis":{"values":[0,1,2,3,4],"format":"d","tickSize":13,"labelAngle":270,"labelAlign":"center","labelBaseline":"bottom","labelPadding":12,"title":null}},
"color":{"field":"g","type":"nominal","scale":{"domain":["Super","Unlimited","Limited"],"range":["#1ee61e","#1414ff","#ff1414"]},
"legend":{"orient":"top-left","offset":0,"title":null,"symbolType":"M-1.84,0H1.84","symbolSize":361,"symbolOffset":9,"symbolStrokeWidth":1.5,"symbolOpacity":0.7,"labelFontSize":19,"labelFont":"Liberation Sans","labelColor":"#222","labelOffset":28,"padding":12,"rowPadding":3,"strokeColor":"#555","fillColor":"white"}},
"strokeDash":{"field":"t","type":"nominal","scale":{"domain":["solid","dashed","dotted"],"range":[[1,0],[7,5],[2,4]]},"legend":null},
"detail":{"field":"k","type":"nominal"}
}},
{"data":{"values":[{}]},
"mark":{"type":"rule","color":"#111","strokeWidth":1.2},
"encoding":{"y":{"datum":1}}}
],
"config":{
"view":{"stroke":"#555","strokeWidth":1.5},
"axis":{"grid":false,"domain":false,"tickColor":"#555","tickWidth":1.5,"labelFont":"Liberation Sans","labelFontSize":19,"labelColor":"#222"}
}
}
